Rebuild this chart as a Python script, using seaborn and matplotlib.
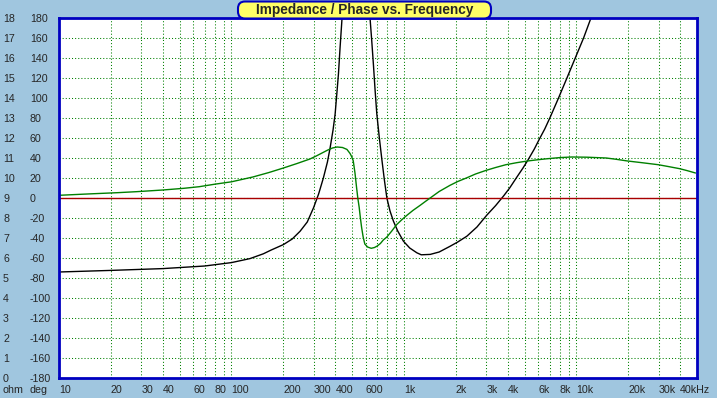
import numpy as np
import pandas as pd
import matplotlib
matplotlib.use("Agg")
import matplotlib.pyplot as plt
from matplotlib.patches import FancyBboxPatch
from matplotlib.ticker import NullFormatter
import seaborn as sns

sns.set_theme(style="white")
plt.rcParams["font.family"] = ["Liberation Sans", "DejaVu Sans"]

# impedance curve (Hz, ohm) - values above 18 are off the top of the chart
freq_z = [10, 20, 40, 70, 100, 128, 153, 170, 200, 225, 250, 275, 299, 320, 341,
          360, 373, 388, 399, 408, 417, 426, 436, 455, 540, 615, 637, 650, 666,
          680, 696, 720, 745, 770, 796, 830, 869, 920, 993, 1080, 1188, 1260,
          1420, 1600, 1854, 2050, 2316, 2650, 3027, 3400, 3779, 4100, 4518, 4900,
          5278, 5700, 6100, 6550, 7052, 7873, 8809, 9843, 11000, 12020, 15000,
          25000, 50000]
ohm = [5.30, 5.38, 5.47, 5.60, 5.77, 5.97, 6.21, 6.40, 6.67, 6.95, 7.34, 7.8, 8.51,
       9.2, 10.0, 10.8, 11.5, 12.4, 13.2, 14.2, 15.2, 16.5, 17.8, 20.5, 30.0, 20.5,
       17.9, 16.9, 15.6, 14.4, 13.2, 12.0, 10.9, 9.9, 9.0, 8.35, 7.84, 7.35, 6.84,
       6.5, 6.26, 6.16, 6.18, 6.3, 6.59, 6.8, 7.09, 7.55, 8.15, 8.62, 9.1, 9.5,
       10.05, 10.5, 10.95, 11.45, 11.95, 12.45, 13.05, 14.0, 15.0, 16.0, 17.0, 17.9,
       20.0, 25.0, 32.0]

# phase curve (Hz, deg)
freq_p = [10, 15, 21.7, 28, 40, 53, 65, 80, 100, 133, 165, 200, 240, 285, 310, 335,
          360, 385, 410, 440, 467, 487, 497, 508, 520, 531, 540, 550, 559,
          568, 580, 593, 615, 646, 675, 700, 730, 759, 796, 850, 906, 975, 1040,
          1130, 1242, 1330, 1419, 1600, 1850, 2050, 2300, 2600, 3000, 3400, 3900,
          4500, 5200, 6000, 6800, 8000, 9400, 11500, 14900, 17000, 19800, 24000,
          29800, 34000, 39700, 44000, 49000]
phase = [2.7, 4.1, 5.3, 6.3, 8.0, 9.7, 11.3, 13.8, 16.2, 21.0, 25.5, 30.0, 34.5,
         39.0, 42.0, 45.0, 47.8, 50.0, 51.0, 50.5, 48.6, 44.5, 41.5, 37.3,
         25.0, 10.7, 0.0, -9.3, -20.0, -29.3, -39.0, -46.0, -49.0, -50.3, -49.5,
         -48.0, -45.5, -42.0, -39.0, -33.0, -26.7, -21.5, -17.3, -12.3, -7.3, -3.5,
         0.0, 6.5, 12.7, 16.5, 20.0, 24.0, 27.7, 30.5, 33.3, 35.3, 37.0, 38.3, 39.3,
         40.4, 41.0, 40.8, 40.0, 38.7, 37.0, 35.3, 33.3, 31.5, 29.3, 27.3, 25.0]

x_ticks = [10, 20, 30, 40, 60, 80, 100, 200, 300, 400, 600, 1000, 2000, 3000,
           4000, 6000, 8000, 10000, 20000, 30000, 40000]
x_labels = ["10", "20", "30", "40", "60", "80", "100", "200", "300", "400", "600",
            "1k", "2k", "3k", "4k", "6k", "8k", "10k", "20k", "30k", "40kHz"]
ohm_ticks = list(range(0, 19))
deg_ticks = list(range(-180, 181, 20))

bg = "#a0c6df"
border = "#0000c0"
grid_green = "#008000"

grid_freqs = [m * 10 ** d for d in range(1, 5) for m in range(1, 10) if m * 10 ** d <= 50000]

fig = plt.figure(figsize=(7.17, 3.98), dpi=100, facecolor=bg)
ax = fig.add_axes([59 / 717, 20 / 398, 638 / 717, 360 / 398])
ax.set_facecolor("white")
ax.set_xscale("log")

ax2 = ax.twinx()

sns.lineplot(x=freq_z, y=ohm, ax=ax, color="black", lw=1.0)
ax2.axhline(0, color="#a80000", lw=1.0, zorder=1)
sns.lineplot(x=freq_p, y=phase, ax=ax2, color=grid_green, lw=1.0, zorder=2)

ax.set_xlim(10, 50000)
ax.set_ylim(0, 18)
ax2.set_ylim(-180, 180)

# dotted grid
ax.set_xticks(x_ticks, labels=x_labels)
ax.set_xticks(grid_freqs, minor=True)
ax.xaxis.set_minor_formatter(NullFormatter())
ax.set_yticks(ohm_ticks, labels=[str(v) for v in ohm_ticks])
ax.grid(True, which="both", axis="x", color=grid_green, ls=(0, (1, 2)), lw=0.75)
ax.grid(True, which="major", axis="y", color=grid_green, ls=(0, (1, 2)), lw=0.75)

ax.tick_params(axis="x", which="both", length=0, pad=5, labelsize=7.7)
for lab in ax.get_xticklabels():
    lab.set_ha("left")
ax.tick_params(axis="y", length=0, pad=40.3, labelsize=7.7)
for lab in ax.get_yticklabels():
    lab.set_ha("left")

ax2.yaxis.tick_left()
ax2.set_yticks(deg_ticks, labels=[str(v) for v in deg_ticks])
ax2.tick_params(axis="y", length=0, pad=20.9, labelsize=7.7)
for lab in ax2.get_yticklabels():
    lab.set_ha("left")

ax.set_xlabel("")
ax.set_ylabel("")
ax2.set_ylabel("")

for s in ax.spines.values():
    s.set_visible(False)
for s in ax2.spines.values():
    s.set_visible(True)
    s.set_color(border)
    s.set_linewidth(2)

fig.text(3 / 717, 1 - 390 / 398, "ohm", fontsize=7.7, ha="left", va="center")
fig.text(30 / 717, 1 - 390 / 398, "deg", fontsize=7.7, ha="left", va="center")

# title box
box = FancyBboxPatch((2.38, 3.795), 2.53, 0.17,
                     boxstyle="round,pad=0,rounding_size=0.07",
                     transform=fig.dpi_scale_trans, fc="#ffff66", ec=border,
                     lw=1.5, zorder=5)
fig.add_artist(box)
fig.text(3.645, 3.88, "Impedance / Phase vs. Frequency", transform=fig.dpi_scale_trans,
         ha="center", va="center", fontsize=9.8, fontweight="bold", zorder=6)

fig.savefig("out.png", dpi=100, facecolor=bg)
